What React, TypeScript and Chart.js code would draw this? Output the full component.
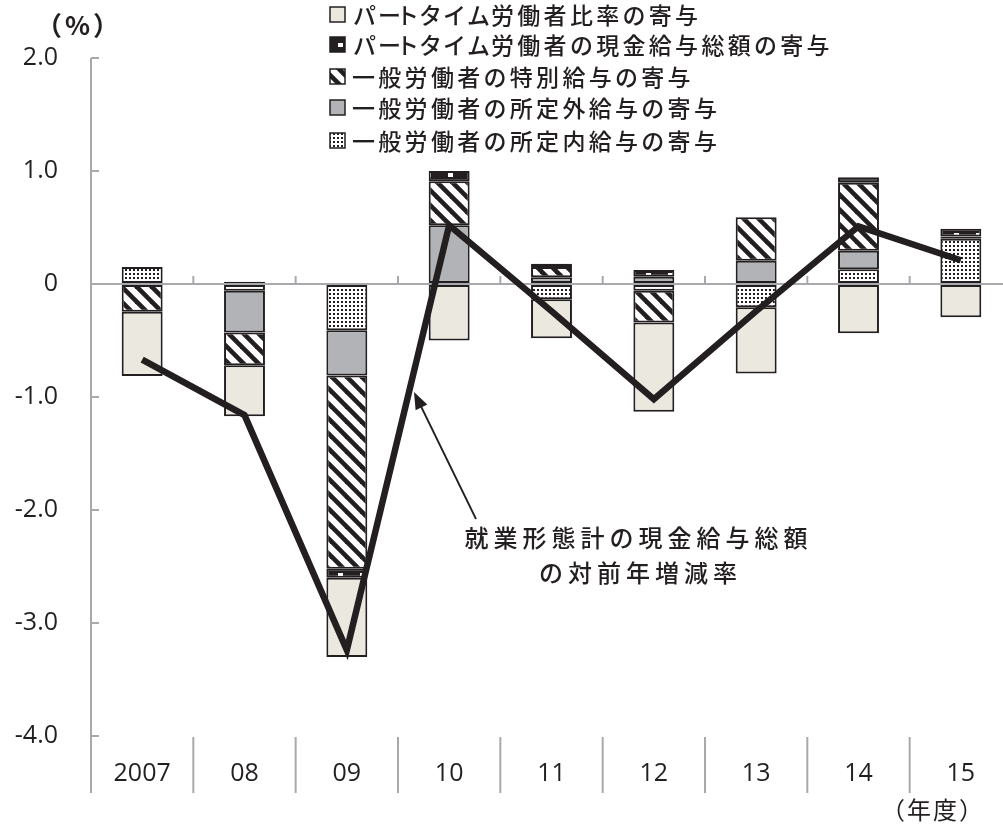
import React, { useEffect, useRef } from 'react';
import { Chart, registerables } from 'chart.js';
Chart.register(...registerables);

const categories = ['2007', '08', '09', '10', '11', '12', '13', '14', '15'];
// 一般労働者の所定内給与の寄与
const scheduledPay = [0.15, -0.06, -0.41, null, -0.135, -0.06, -0.206, 0.13, 0.4];
// 一般労働者の所定外給与の寄与
const overtimePay = [null, -0.37, -0.4, 0.52, 0.06, 0.065, 0.206, 0.165, 0.02];
// 一般労働者の特別給与の寄与
const specialPay = [-0.245, -0.29, -1.71, 0.39, 0.09, -0.28, 0.385, 0.6, null];
// パートタイム労働者の現金給与総額の寄与
const partTimePay = [null, 0.02, -0.08, 0.09, 0.03, 0.06, null, 0.05, 0.07];
// パートタイム労働者比率の寄与
const partTimeRatio = [-0.57, -0.45, -0.7, -0.5, -0.345, -0.79, -0.585, -0.436, -0.295];
// 就業形態計の現金給与総額の対前年増減率
const totalGrowth = [-0.67, -1.16, -3.24, 0.52, -0.24, -1.02, -0.24, 0.51, 0.21];
const yTicks = [2, 1, 0, -1, -2, -3, -4];

const legendLabels = [
  'パートタイム労働者比率の寄与',
  'パートタイム労働者の現金給与総額の寄与',
  '一般労働者の特別給与の寄与',
  '一般労働者の所定外給与の寄与',
  '一般労働者の所定内給与の寄与',
];
const annotationLines = ['就業形態計の現金給与総額', 'の対前年増減率'];

const INK = '#231f20';
const BEIGE = '#ebe8df';
const GRAY = '#b1b3b6';
const AXIS = '#a7a9ac';
const JP = '"Noto Sans CJK JP", "Noto Sans", sans-serif';
const NUM = '"Open Sans", "Noto Sans", sans-serif';

function tile(w: number, h: number, draw: (c: CanvasRenderingContext2D) => void) {
  const cv = document.createElement('canvas');
  cv.width = w;
  cv.height = h;
  const c = cv.getContext('2d')!;
  draw(c);
  return cv;
}

// draw Japanese text with fixed advance for kanji/kana, proportional katakana
function drawJP(ctx: CanvasRenderingContext2D, text: string, x: number, y: number, adv: number, gap: number, dry = false) {
  let cx = x;
  for (const ch of text) {
    if (/[\u30A0-\u30FF]/.test(ch)) {
      const m = ctx.measureText(ch);
      const l = m.actualBoundingBoxLeft;
      const r = m.actualBoundingBoxRight;
      if (!dry) ctx.fillText(ch, cx + gap / 2 + l, y);
      cx += l + r + gap;
    } else {
      if (!dry) ctx.fillText(ch, cx, y);
      cx += adv;
    }
  }
  return cx - x;
}

export default function App() {
  const ref = useRef<HTMLCanvasElement | null>(null);

  useEffect(() => {
    const canvas = ref.current!;
    const ctx0 = canvas.getContext('2d')!;

    const dotTile = tile(4, 4, (c) => {
      c.fillStyle = '#fff';
      c.fillRect(0, 0, 4, 4);
      c.fillStyle = INK;
      c.fillRect(1, 1, 2, 2);
    });
    const hatchTile = tile(15, 15, (c) => {
      c.fillStyle = '#fff';
      c.fillRect(0, 0, 15, 15);
      c.strokeStyle = INK;
      c.lineWidth = 4.6;
      c.lineCap = 'square';
      for (const o of [-15, 0, 15]) {
        c.beginPath();
        c.moveTo(o - 2, -2);
        c.lineTo(o + 17, 17);
        c.stroke();
      }
    });
    const blackTile = tile(22, 10, (c) => {
      c.fillStyle = INK;
      c.fillRect(0, 0, 22, 10);
      c.fillStyle = '#fff';
      c.fillRect(8, 3, 5, 4);
    });
    const dotPat = ctx0.createPattern(dotTile, 'repeat')!;
    const hatchPat = ctx0.createPattern(hatchTile, 'repeat')!;
    const blackPat = ctx0.createPattern(blackTile, 'repeat')!;

    const barBase = {
      type: 'bar' as const,
      borderColor: INK,
      borderWidth: 2,
      borderSkipped: false as const,
      barPercentage: 0.8,
      categoryPercentage: 0.5,
      order: 1,
    };

    const decor = {
      id: 'decor',
      beforeDatasetsDraw(chart: any) {
        const { ctx, chartArea, scales } = chart;
        const { left, top, bottom } = chartArea;
        const x = scales.x;
        const y = scales.y;
        const axisEnd = bottom + 57;
        ctx.save();
        ctx.strokeStyle = AXIS;
        ctx.lineWidth = 2;
        const seg = (x1: number, y1: number, x2: number, y2: number) => {
          ctx.beginPath();
          ctx.moveTo(x1, y1);
          ctx.lineTo(x2, y2);
          ctx.stroke();
        };
        seg(left, top, left, axisEnd);
        yTicks.forEach((v) => {
          const py = y.getPixelForValue(v);
          seg(left, py, left + 8, py);
        });
        const zero = y.getPixelForValue(0);
        for (let i = 1; i < categories.length; i++) {
          const bx = (x.getPixelForValue(i - 1) + x.getPixelForValue(i)) / 2;
          seg(bx, zero - 8, bx, zero);
          seg(bx, bottom + 1, bx, axisEnd);
        }
        ctx.restore();
      },
      afterDraw(chart: any) {
        const { ctx } = chart;
        ctx.save();
        // legend
        const rowsY = [14, 44, 76, 107, 140];
        const fills: (string | CanvasPattern)[] = [BEIGE, blackPat, hatchPat, GRAY, dotPat];
        ctx.font = `500 23px ${JP}`;
        ctx.textBaseline = 'middle';
        ctx.textAlign = 'left';
        legendLabels.forEach((t, i) => {
          const cy = rowsY[i];
          ctx.fillStyle = fills[i];
          ctx.fillRect(330, cy - 7, 15, 15);
          ctx.strokeStyle = INK;
          ctx.lineWidth = 1.5;
          ctx.strokeRect(330, cy - 7, 15, 15);
          ctx.fillStyle = INK;
          drawJP(ctx, t, 352, cy + 1, 26.3, 4);
        });
        // units
        ctx.textAlign = 'center';
        ctx.font = `bold 26px ${JP}`;
        (ctx as any).letterSpacing = '3px';
        ctx.fillText('（%）', 79, 25);
        ctx.font = `24px ${JP}`;
        (ctx as any).letterSpacing = '2px';
        ctx.fillText('（年度）', 933, 810);
        (ctx as any).letterSpacing = '0px';
        // annotation
        ctx.textAlign = 'left';
        ctx.font = `500 24px ${JP}`;
        const centers = [[636, 538], [638, 573]];
        annotationLines.forEach((t, i) => {
          const w = drawJP(ctx, t, 0, 0, 29, 2, true) - 5;
          drawJP(ctx, t, centers[i][0] - w / 2, centers[i][1], 29, 2);
        });
        // arrow
        const x1 = 476, y1 = 519, x2 = 414, y2 = 392;
        const ang = Math.atan2(y2 - y1, x2 - x1);
        ctx.strokeStyle = INK;
        ctx.lineWidth = 1.8;
        ctx.beginPath();
        ctx.moveTo(x1, y1);
        ctx.lineTo(x2 - 10 * Math.cos(ang), y2 - 10 * Math.sin(ang));
        ctx.stroke();
        const hl = 17, hw = 6.5;
        const bx = x2 - hl * Math.cos(ang), by = y2 - hl * Math.sin(ang);
        ctx.fillStyle = INK;
        ctx.beginPath();
        ctx.moveTo(x2, y2);
        ctx.lineTo(bx + hw * Math.sin(ang), by - hw * Math.cos(ang));
        ctx.lineTo(bx - hw * Math.sin(ang), by + hw * Math.cos(ang));
        ctx.closePath();
        ctx.fill();
        ctx.restore();
      },
    };

    const chart = new Chart(canvas, {
      data: {
        labels: categories,
        datasets: [
          { ...barBase, label: legendLabels[4], data: scheduledPay, backgroundColor: dotPat },
          { ...barBase, label: legendLabels[3], data: overtimePay, backgroundColor: GRAY },
          { ...barBase, label: legendLabels[2], data: specialPay, backgroundColor: hatchPat },
          { ...barBase, label: legendLabels[1], data: partTimePay, backgroundColor: blackPat },
          { ...barBase, label: legendLabels[0], data: partTimeRatio, backgroundColor: BEIGE },
          {
            type: 'line' as const,
            label: annotationLines.join(''),
            data: totalGrowth,
            borderColor: INK,
            borderWidth: 6.5,
            borderJoinStyle: 'miter' as const,
            pointRadius: 0,
            tension: 0,
            fill: false,
            stack: 'line',
            order: 0,
          } as any,
        ],
      } as any,
      options: {
        animation: false,
        responsive: false,
        maintainAspectRatio: false,
        layout: { padding: { top: 58, left: 0, right: 1, bottom: 0 } },
        plugins: { legend: { display: false }, tooltip: { enabled: false } },
        scales: {
          x: {
            stacked: true,
            grid: { display: false, drawTicks: false },
            border: { display: false },
            ticks: {
              font: { family: NUM, size: 25 },
              color: INK,
              padding: 23,
              maxRotation: 0,
              autoSkip: false,
            },
            afterFit: (s: any) => {
              s.height = 89;
            },
          },
          y: {
            stacked: true,
            min: -4,
            max: 2,
            afterBuildTicks: (s: any) => {
              s.ticks = yTicks.map((v) => ({ value: v }));
            },
            ticks: {
              callback: (v: any) => (Number(v) === 0 ? '0' : Number(v).toFixed(1)),
              font: { family: NUM, size: 25 },
              color: INK,
              padding: 33,
            },
            grid: {
              color: (c: any) => (c.tick && c.tick.value === 0 ? AXIS : 'rgba(0,0,0,0)'),
              lineWidth: 2,
              drawTicks: false,
            },
            border: { display: false },
            afterFit: (s: any) => {
              s.width = 91;
            },
          },
        },
      } as any,
      plugins: [decor],
    });
    return () => chart.destroy();
  }, []);

  return (
    <div style={{ position: 'absolute', left: 0, top: 0, width: 1003, height: 825, overflow: 'hidden', background: '#fff' }}>
      <canvas ref={ref} width={1013} height={825} style={{ width: 1013, height: 825, display: 'block' }} />
    </div>
  );
}
